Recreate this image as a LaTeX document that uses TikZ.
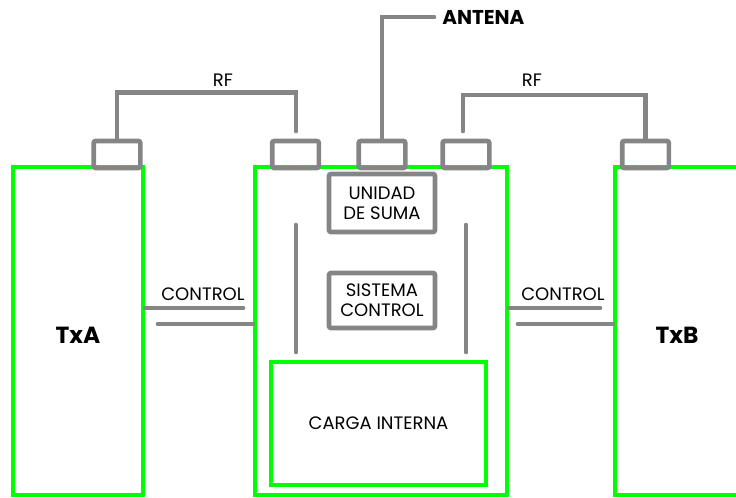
\documentclass[tikz,border=0pt]{standalone}
\usepackage{fontspec}
\setmainfont{Poppins}
\usepackage{xcolor}
\usepackage{tikz}
\usetikzlibrary{positioning, calc}
\definecolor{LineGray}{HTML}{858585}
\definecolor{BoxGreen}{HTML}{00FF00}

\begin{document}
\begin{tikzpicture}[x=0.75pt, y=-0.75pt,
    greenbox/.style={draw=BoxGreen, line width=3.5pt, inner sep=0pt},
    graybox/.style={draw=LineGray, line width=3.5pt, inner sep=0pt, rounded corners=1.5pt, align=center, font=\fontsize{13.5}{15}\selectfont},
    tabbox/.style={graybox, minimum width=35pt, minimum height=20.25pt},
    wire/.style={draw=LineGray, line width=3.5pt, line cap=round},
    lbl/.style={font=\fontsize{13.5}{15}\selectfont, inner sep=0pt}]
  \useasboundingbox (0,0) rectangle (736,497);
  % Transmitters and main unit
  \node[greenbox, minimum width=97.5pt, minimum height=246pt] (txa) at (78,331) {};
  \node[greenbox, minimum width=189pt, minimum height=246pt] (hub) at (381,331) {};
  \node[greenbox, minimum width=123.75pt, minimum height=246pt] (txb) at (697.5,331) {};
  \node[font=\fontsize{17.5}{20}\selectfont\bfseries] (txalbl) at (78,335) {TxA};
  \node[font=\fontsize{17.5}{20}\selectfont\bfseries] (txblbl) at (677,335) {TxB};
  % Connectors on top
  \node[tabbox] (taba) at (117,154.5) {};
  \node[tabbox] (tabl) at (295.5,154.5) {};
  \node[tabbox] (tabant) at (382,154.5) {};
  \node[tabbox] (tabr) at (466,154.5) {};
  \node[tabbox] (tabb) at (645.5,154.5) {};
  % Inner blocks
  \node[graybox, minimum width=79.5pt, minimum height=43.5pt] (suma) at (382,203) {UNIDAD\\DE SUMA};
  \node[graybox, minimum width=79.5pt, minimum height=41.25pt] (ctrl) at (382,300.5) {SISTEMA\\CONTROL};
  \node[greenbox, minimum width=161.25pt, minimum height=92.25pt, font=\fontsize{13.5}{15}\selectfont] (carga) at (378.5,423.5) {CARGA INTERNA};
  \draw[wire] (296,225) -- (296,352);
  \draw[wire] (466,225) -- (466,352);
  % Antenna
  \node[font=\fontsize{15}{18}\selectfont\bfseries, anchor=west, inner sep=6pt] (antena) at (434,17) {ANTENA};
  \draw[wire] (tabant.north) |- (antena.west);
  % RF links
  \coordinate (rfa) at (296,131);
  \coordinate (rfb) at (463,131);
  \draw[wire] (taba.north) -- ++(0,-46) -| (rfa);
  \draw[wire] (rfb) -- ++(0,-36) -| (tabb.north);
  \node[lbl] (rfalbl) at (223,80) {RF};
  \node[lbl] (rfblbl) at (532,80) {RF};
  % Control links
  \coordinate (ctla1) at (243,308);
  \coordinate (ctla2) at (158,324);
  \coordinate (ctlb1) at (600,308);
  \coordinate (ctlb2) at (518,324);
  \draw[wire] (ctla1) -- (ctla1 -| txa.east);
  \draw[wire] (ctla2) -- (ctla2 -| hub.west);
  \draw[wire] (ctlb1) -- (ctlb1 -| hub.east);
  \draw[wire] (ctlb2) -- (ctlb2 -| txb.west);
  \node[lbl] (ctlalbl) at (203,294) {CONTROL};
  \node[lbl] (ctlblbl) at (563,294) {CONTROL};
\end{tikzpicture}
\end{document}
